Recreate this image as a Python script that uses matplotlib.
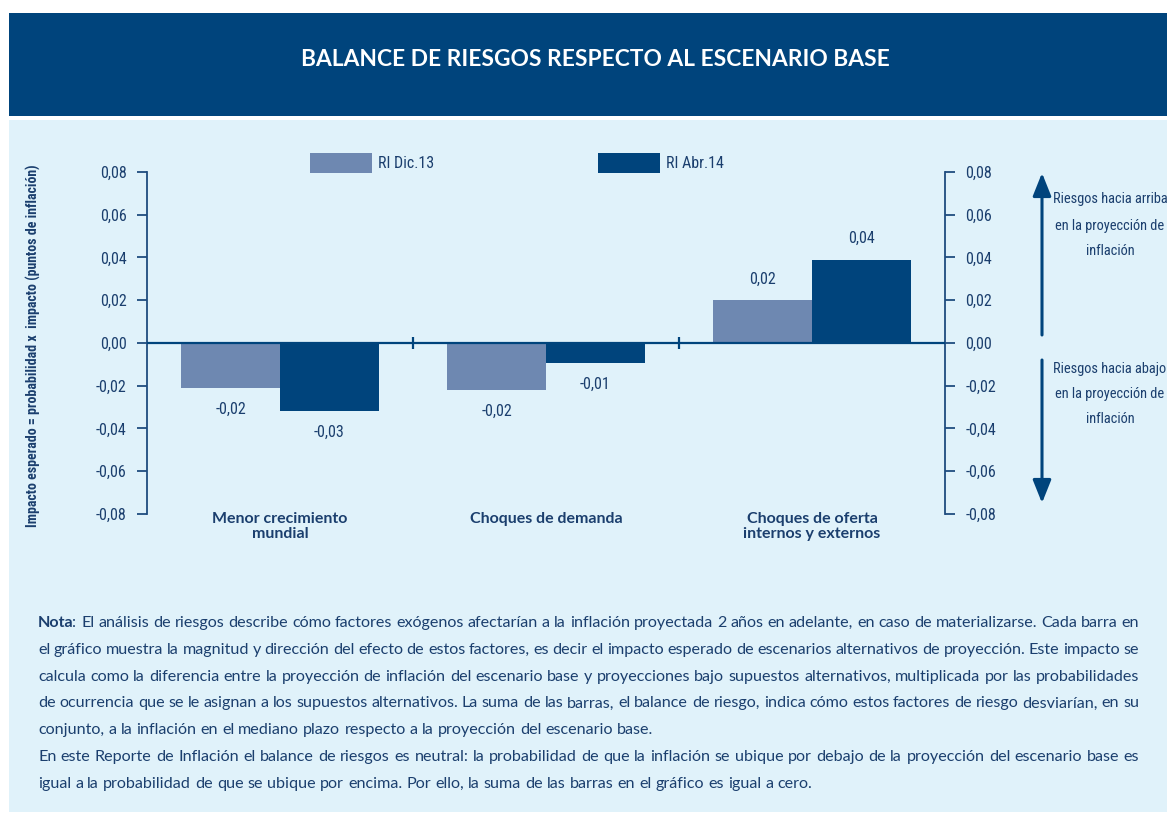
import matplotlib
matplotlib.use("Agg")
import matplotlib.pyplot as plt
import numpy as np
from matplotlib import font_manager
from matplotlib.font_manager import FontProperties
from matplotlib.patches import Rectangle, FancyArrowPatch
from matplotlib.ticker import FuncFormatter

# ---------------- data ----------------
categories = ["Menor crecimiento\nmundial", "Choques de demanda", "Choques de oferta\ninternos y externos"]
series_names = ["RI Dic.13", "RI Abr.14"]
ri_dic13 = [-0.021, -0.022, 0.020]
ri_abr14 = [-0.032, -0.0095, 0.039]
yticks = [-0.08, -0.06, -0.04, -0.02, 0.00, 0.02, 0.04, 0.06, 0.08]

title = "BALANCE DE RIESGOS RESPECTO AL ESCENARIO BASE"
ylabel = "Impacto esperado = probabilidad x  impacto (puntos de inflación)"
up_text = ["Riesgos hacia arriba", "en la proyección de", "inflación"]
down_text = ["Riesgos hacia abajo", "en la proyección de", "inflación"]

note_par1 = [
    "Nota: El análisis de riesgos describe cómo factores exógenos afectarían a la inflación proyectada 2 años en adelante, en caso de materializarse. Cada barra en",
    "el gráfico muestra la magnitud y dirección del efecto de estos factores, es decir el impacto esperado de escenarios alternativos de proyección. Este impacto se",
    "calcula como la diferencia entre la proyección de inflación del escenario base y proyecciones bajo supuestos alternativos, multiplicada por las probabilidades",
    "de ocurrencia que se le asignan a los supuestos alternativos. La suma de las barras, el balance de riesgo, indica cómo estos factores de riesgo desviarían, en su",
    "conjunto, a la inflación en el mediano plazo respecto a la proyección del escenario base.",
]
note_par2 = [
    "En este Reporte de Inflación el balance de riesgos es neutral: la probabilidad de que la inflación se ubique por debajo de la proyección del escenario base es",
    "igual a la probabilidad de que se ubique por encima. Por ello, la suma de las barras en el gráfico es igual a cero.",
]

# ---------------- style ----------------
HEADER = "#00447C"
PANEL = "#E0F2FA"
LIGHT = "#6E88B1"
DARK = "#00447C"
TXT = "#1B3F6E"
SPINE = "#1F4C7F"

installed = {f.name for f in font_manager.fontManager.ttflist}
def pick(*cands):
    for c in cands:
        if c in installed:
            return c
    return "DejaVu Sans"

MAIN = pick("Lato", "Open Sans", "Noto Sans")
NARROW = pick("Liberation Sans Narrow", "Roboto Condensed", "Open Sans Condensed", MAIN)

W, H = 1167, 813
fig = plt.figure(figsize=(W / 100, H / 100), dpi=100)
fig.patch.set_facecolor("white")

def fx(px):
    return px / W
def fy(py):
    return 1 - py / H

# header and panel
fig.patches.append(Rectangle((fx(9), fy(116)), 1 - fx(9), (116 - 13) / H,
                             transform=fig.transFigure, facecolor=HEADER, edgecolor="none", zorder=-5))
fig.patches.append(Rectangle((fx(9), fy(812)), 1 - fx(9), (812 - 120) / H,
                             transform=fig.transFigure, facecolor=PANEL, edgecolor="none", zorder=-5))
fig.text(fx(595), fy(60), title, color="white", fontsize=16.4, fontweight="bold",
         family=MAIN, ha="center", va="center")

# axes
ax = fig.add_axes([fx(147), fy(514), (945 - 147) / W, (514 - 172) / H])
ax.set_zorder(2)
ax.set_facecolor("none")
x = np.arange(len(categories))
w = 0.372
b1 = ax.bar(x - w / 2, ri_dic13, w, color=LIGHT, zorder=2)
b2 = ax.bar(x + w / 2, ri_abr14, w, color=DARK, zorder=2)
ax.set_xlim(-0.5, len(categories) - 0.5)
ax.set_ylim(yticks[0], yticks[-1])
ax.axhline(0, color=DARK, lw=1.6, zorder=3)
ax.plot([0.5, 1.5], [0, 0], ls="none", marker="|", ms=8, mew=1.6, color=DARK, zorder=4, clip_on=False)

for s in ["top", "bottom"]:
    ax.spines[s].set_visible(False)
for s in ["left", "right"]:
    ax.spines[s].set_color(SPINE)
    ax.spines[s].set_linewidth(1.3)

def fmt(v, p=None):
    return f"{round(v, 2) + 0.0:.2f}".replace(".", ",")

ax.set_yticks(yticks)
ax.yaxis.set_major_formatter(FuncFormatter(fmt))
ax.tick_params(axis="y", left=True, right=True, labelleft=True, labelright=True,
               direction="out", length=7.5, width=1.3, color=SPINE, pad=7,
               labelsize=11.5, labelcolor=TXT, labelfontfamily=NARROW)
ax.set_xticks([])

# category labels
for xi, c in zip(x, categories):
    ax.text(xi, -0.0792, c, ha="center", va="top", fontsize=11.5, fontweight="bold",
            color=TXT, family=MAIN, linespacing=1.05, clip_on=False)

# value labels
for bars, vals in [(b1, ri_dic13), (b2, ri_abr14)]:
    for rect, v in zip(bars, vals):
        cx = rect.get_x() + rect.get_width() / 2
        off = 10 if v >= 0 else -10
        ax.annotate(fmt(v), (cx, v), xytext=(0, off), textcoords="offset points",
                    ha="center", va="bottom" if v >= 0 else "top",
                    fontsize=11.5, color=TXT, family=NARROW)

# y label
fig.text(fx(33), fy(346), ylabel, rotation=90, ha="center", va="center",
         fontsize=10, fontweight="bold", color=TXT, family=NARROW)

# legend
for (x0, name, col) in [(310, series_names[0], LIGHT), (598, series_names[1], DARK)]:
    fig.patches.append(Rectangle((fx(x0), fy(173)), 62 / W, 20 / H, transform=fig.transFigure,
                                 facecolor=col, edgecolor="none", zorder=1))
    fig.text(fx(x0 + 68), fy(163), name, ha="left", va="center", fontsize=11.5,
             color=TXT, family=NARROW)

# arrows
for (y0, y1) in [(335, 173), (360, 503)]:
    fig.add_artist(FancyArrowPatch((fx(1042), fy(y0)), (fx(1042), fy(y1)),
                                   transform=fig.transFigure,
                                   arrowstyle="-|>,head_length=1.0,head_width=0.4",
                                   mutation_scale=14, lw=2.2, color=DARK,
                                   shrinkA=0, shrinkB=0))
for lines, ys in [(up_text, [199, 226, 251]), (down_text, [369, 394, 419])]:
    for t, yy in zip(lines, ys):
        fig.text(fx(1110), fy(yy), t, ha="center", va="center", fontsize=10.4,
                 color=TXT, family=NARROW)

# justified note text
renderer = fig.canvas.get_renderer()
fp_reg = FontProperties(family=MAIN, size=11.6)
fp_bold = FontProperties(family=MAIN, size=11.6, weight="bold")

def wpx(s, fp):
    return renderer.get_text_width_height_descent(s, fp, ismath=False)[0]

space = wpx("a a", fp_reg) - wpx("aa", fp_reg)
LEFT, RIGHT = 38, 1139
base0, step = 627, 26.8

def segs(word, first):
    if first and word.startswith("Nota:"):
        return [("Nota", fp_bold), (word[4:], fp_reg)]
    return [(word, fp_reg)]

lines_all = []
for par in [note_par1, note_par2]:
    for i, ln in enumerate(par):
        lines_all.append((ln, i == len(par) - 1))

for k, (ln, last) in enumerate(lines_all):
    words = ln.split(" ")
    wsegs = [segs(wd, k == 0 and j == 0) for j, wd in enumerate(words)]
    widths = [sum(wpx(s, f) for s, f in sg) for sg in wsegs]
    if last or len(words) < 2:
        gap = space
    else:
        gap = (RIGHT - LEFT - sum(widths)) / (len(words) - 1)
    xx = LEFT
    yb = base0 + k * step
    for sg, wd in zip(wsegs, widths):
        xs = xx
        for s, f in sg:
            fig.text(fx(xs), fy(yb), s, fontproperties=f, color=TXT, ha="left", va="baseline")
            xs += wpx(s, f) - (1.5 if f is fp_bold else 0)
        xx += wd + gap

fig.savefig("out.png", dpi=100, facecolor="white")
